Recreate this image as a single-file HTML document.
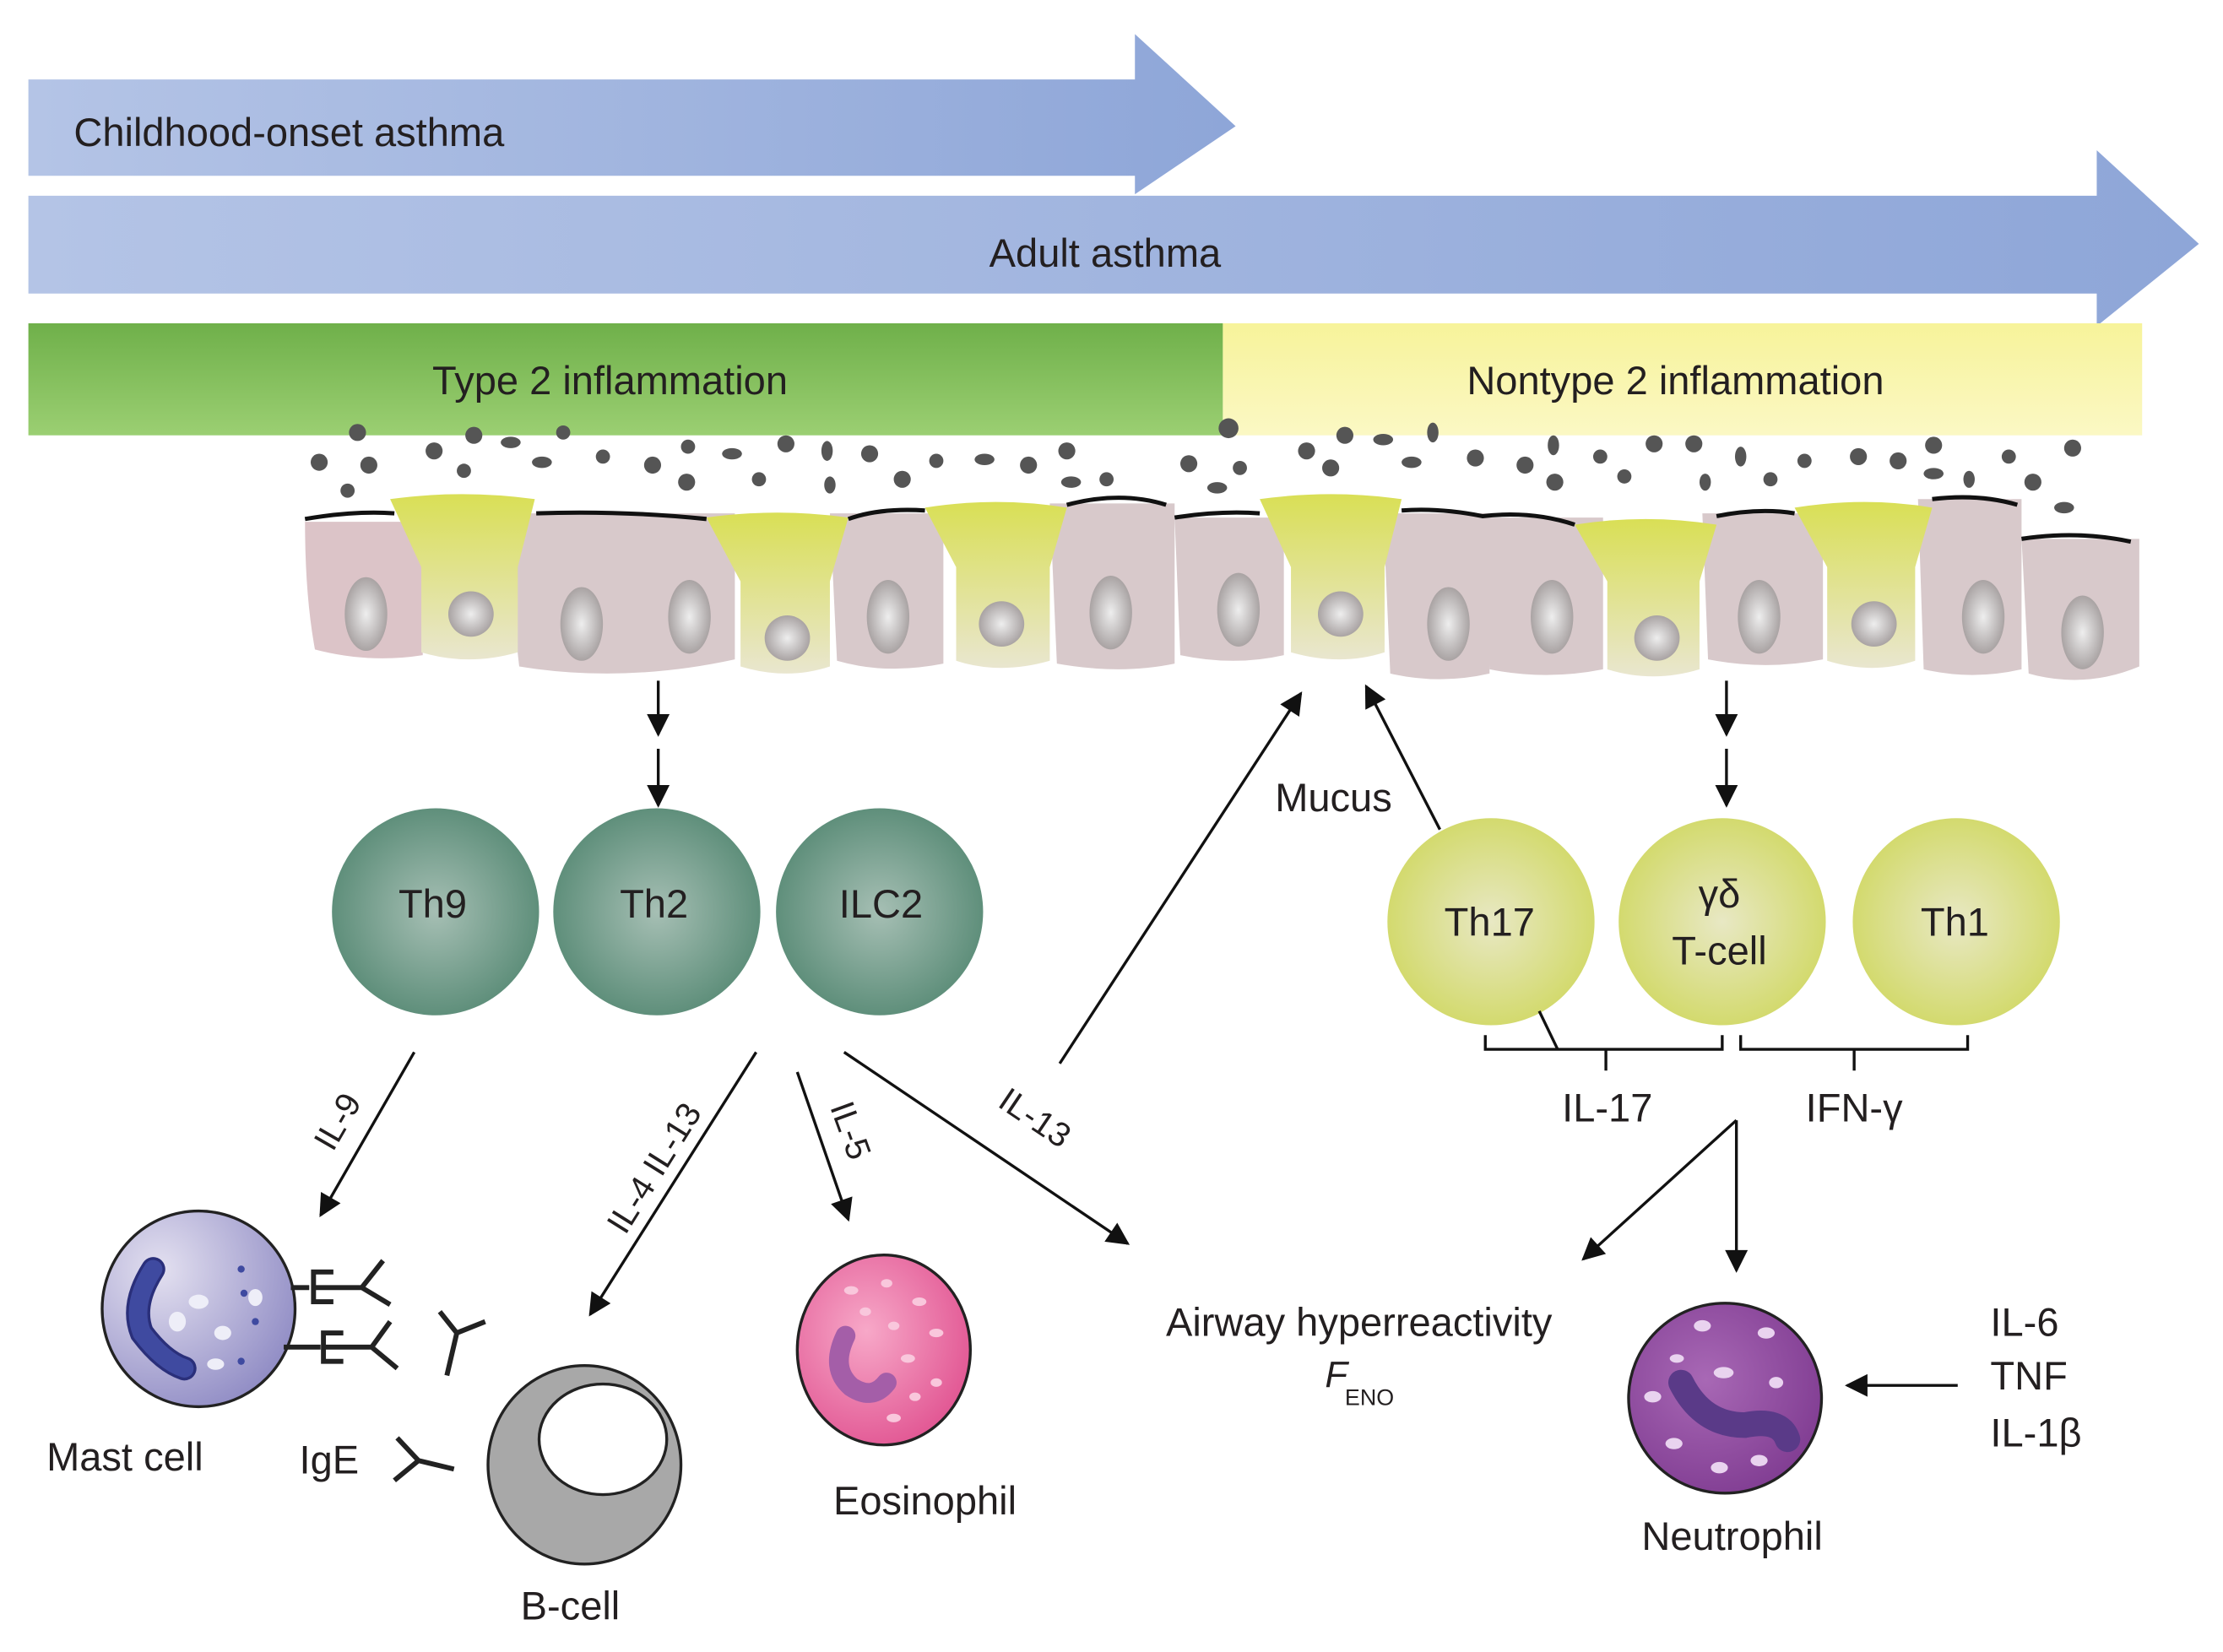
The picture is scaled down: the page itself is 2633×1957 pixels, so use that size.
<!DOCTYPE html>
<html><head><style>html,body{margin:0;padding:0;background:#fff}svg{display:block}text{font-family:"Liberation Sans",sans-serif;fill:#231f20}</style></head><body>
<svg width="2633" height="1957" viewBox="0 0 1567 1165" preserveAspectRatio="none" xmlns="http://www.w3.org/2000/svg">
<defs>
<linearGradient id="ab" x1="0" x2="1"><stop offset="0" stop-color="#b4c4e6"/><stop offset="1" stop-color="#8ea6d8"/></linearGradient>
<linearGradient id="gr" x1="0" y1="0" x2="0" y2="1"><stop offset="0" stop-color="#6fb04a"/><stop offset="1" stop-color="#9bcf72"/></linearGradient>
<linearGradient id="yl" x1="0" y1="0" x2="0" y2="1"><stop offset="0" stop-color="#f7f39a"/><stop offset="1" stop-color="#fbf8c4"/></linearGradient>
<radialGradient id="tg" cx="0.5" cy="0.5" r="0.5"><stop offset="0" stop-color="#a6bfb4"/><stop offset="1" stop-color="#5f8f7b"/></radialGradient>
<radialGradient id="ty" cx="0.5" cy="0.5" r="0.5"><stop offset="0" stop-color="#e8e8c4"/><stop offset="1" stop-color="#d3da6e"/></radialGradient>
<linearGradient id="gob" x1="0" y1="0" x2="0" y2="1"><stop offset="0" stop-color="#d9df55"/><stop offset="1" stop-color="#e9e6cf"/></linearGradient>
<radialGradient id="nuc" cx="0.5" cy="0.5" r="0.5"><stop offset="0" stop-color="#eee"/><stop offset="1" stop-color="#a9a3a3"/></radialGradient>
<radialGradient id="mast" cx="0.3" cy="0.3" r="0.8"><stop offset="0" stop-color="#e3e0f0"/><stop offset="1" stop-color="#8f8bc4"/></radialGradient>
<radialGradient id="eos" cx="0.4" cy="0.4" r="0.7"><stop offset="0" stop-color="#f7a8c8"/><stop offset="1" stop-color="#e0508f"/></radialGradient>
<radialGradient id="neu" cx="0.4" cy="0.4" r="0.7"><stop offset="0" stop-color="#a868b5"/><stop offset="1" stop-color="#7e3a90"/></radialGradient>
<marker id="ar2" viewBox="0 0 10 10" refX="9" refY="5" markerWidth="18" markerHeight="16" orient="auto" markerUnits="userSpaceOnUse"><path d="M0,0L10,5L0,10z" fill="#111"/></marker>
</defs>
<path d="M20,56H800V24L871,89L800,137V124H20Z" fill="url(#ab)"/>
<text x="52" y="103" font-size="28">Childhood-onset asthma</text>
<path d="M20,138H1478V106L1550,172L1478,230V207H20Z" fill="url(#ab)"/>
<text x="779" y="188" font-size="28" text-anchor="middle">Adult asthma</text>
<rect x="20" y="228" width="842" height="79" fill="url(#gr)"/>
<rect x="862" y="228" width="648" height="79" fill="url(#yl)"/>
<text x="430" y="278" font-size="28" text-anchor="middle">Type 2 inflammation</text>
<text x="1181" y="278" font-size="28" text-anchor="middle">Nontype 2 inflammation</text>
<g fill="#555">
<circle cx="225" cy="326" r="6"/><circle cx="252" cy="305" r="6"/><circle cx="260" cy="328" r="6"/><circle cx="245" cy="346" r="5"/><circle cx="306" cy="318" r="6"/><circle cx="334" cy="307" r="6"/><circle cx="327" cy="332" r="5"/><ellipse cx="360" cy="312" rx="7" ry="4"/><ellipse cx="382" cy="326" rx="7" ry="4"/><circle cx="397" cy="305" r="5"/><circle cx="425" cy="322" r="5"/><circle cx="460" cy="328" r="6"/><circle cx="485" cy="315" r="5"/><circle cx="484" cy="340" r="6"/><ellipse cx="516" cy="320" rx="7" ry="4"/><circle cx="554" cy="313" r="6"/><circle cx="535" cy="338" r="5"/><ellipse cx="583" cy="318" rx="4" ry="7"/><ellipse cx="585" cy="342" rx="4" ry="6"/><circle cx="613" cy="320" r="6"/><circle cx="636" cy="338" r="6"/><circle cx="660" cy="325" r="5"/><ellipse cx="694" cy="324" rx="7" ry="4"/><circle cx="725" cy="328" r="6"/><circle cx="752" cy="318" r="6"/><ellipse cx="755" cy="340" rx="7" ry="4"/><circle cx="780" cy="338" r="5"/><circle cx="838" cy="327" r="6"/><circle cx="866" cy="302" r="7"/><circle cx="874" cy="330" r="5"/><ellipse cx="858" cy="344" rx="7" ry="4"/><circle cx="921" cy="318" r="6"/><circle cx="948" cy="307" r="6"/><circle cx="938" cy="330" r="6"/><ellipse cx="975" cy="310" rx="7" ry="4"/><ellipse cx="995" cy="326" rx="7" ry="4"/><ellipse cx="1010" cy="305" rx="4" ry="7"/><circle cx="1040" cy="323" r="6"/><circle cx="1075" cy="328" r="6"/><ellipse cx="1095" cy="314" rx="4" ry="7"/><circle cx="1096" cy="340" r="6"/><circle cx="1128" cy="322" r="5"/><circle cx="1166" cy="313" r="6"/><circle cx="1145" cy="336" r="5"/><circle cx="1194" cy="313" r="6"/><ellipse cx="1202" cy="340" rx="4" ry="6"/><ellipse cx="1227" cy="322" rx="4" ry="7"/><circle cx="1248" cy="338" r="5"/><circle cx="1272" cy="325" r="5"/><circle cx="1310" cy="322" r="6"/><circle cx="1338" cy="325" r="6"/><circle cx="1363" cy="314" r="6"/><ellipse cx="1363" cy="334" rx="7" ry="4"/><ellipse cx="1388" cy="338" rx="4" ry="6"/><circle cx="1416" cy="322" r="5"/><circle cx="1433" cy="340" r="6"/><circle cx="1461" cy="316" r="6"/><ellipse cx="1455" cy="358" rx="7" ry="4"/>
</g>
<g stroke="none">
<g fill="#d8c9cb">
<path d="M215,368H298V462Q260,468 222,458Q215,420 215,368Z" fill="#dcc4c8"/>
<path d="M362,362H518V465Q440,482 366,470Q360,420 362,362Z"/>
<path d="M585,362H665V468Q625,476 590,466Z"/>
<path d="M740,355H828V468Q790,476 745,468Z"/>
<path d="M828,365H905V462Q870,470 832,462Z"/>
<path d="M975,362H1050V475Q1015,483 980,475Z"/>
<path d="M1045,365H1130V472Q1090,480 1050,472Z"/>
<path d="M1200,362H1285V465Q1245,473 1204,465Z"/>
<path d="M1352,352H1425V472Q1390,480 1356,472Z"/>
<path d="M1425,380H1508V470Q1470,486 1430,475Z"/>
</g>
<g fill="url(#gob)">
<path d="M275,352Q325,345 377,352L365,400V460Q330,470 297,460V400Z"/>
<path d="M498,365Q548,358 598,365L585,410V470Q555,480 522,470V410Z"/>
<path d="M652,358Q702,350 752,358L740,400V466Q705,476 674,466V400Z"/>
<path d="M888,352Q938,345 988,352L976,400V460Q945,470 910,460V400Z"/>
<path d="M1110,370Q1160,362 1210,370L1198,410V472Q1165,482 1133,472V410Z"/>
<path d="M1265,358Q1315,350 1362,358L1350,400V466Q1320,476 1288,466V400Z"/>
</g>
<g fill="url(#nuc)">
<ellipse cx="258" cy="433" rx="15" ry="26"/><circle cx="332" cy="433" r="16"/><ellipse cx="410" cy="440" rx="15" ry="26"/><ellipse cx="486" cy="435" rx="15" ry="26"/><circle cx="555" cy="450" r="16"/><ellipse cx="626" cy="435" rx="15" ry="26"/><circle cx="706" cy="440" r="16"/><ellipse cx="783" cy="432" rx="15" ry="26"/><ellipse cx="873" cy="430" rx="15" ry="26"/><circle cx="945" cy="433" r="16"/><ellipse cx="1021" cy="440" rx="15" ry="26"/><ellipse cx="1094" cy="435" rx="15" ry="26"/><circle cx="1168" cy="450" r="16"/><ellipse cx="1240" cy="435" rx="15" ry="26"/><circle cx="1321" cy="440" r="16"/><ellipse cx="1398" cy="435" rx="15" ry="26"/><ellipse cx="1468" cy="446" rx="15" ry="26"/>
</g>
<g fill="none" stroke="#111" stroke-width="3">
<path d="M215,366Q250,360 278,362"/><path d="M378,362Q440,360 498,366"/><path d="M598,366Q620,358 652,360"/><path d="M752,356Q790,346 822,356"/><path d="M828,365Q860,360 888,362"/><path d="M988,360Q1015,358 1045,364Q1080,360 1110,370"/><path d="M1210,364Q1240,358 1265,362"/><path d="M1362,352Q1395,348 1422,356"/><path d="M1425,380Q1465,374 1502,382"/>
</g>
</g>
<g stroke="#111" stroke-width="2" fill="none">
<line x1="464" y1="480" x2="464" y2="518" marker-end="url(#ar2)"/>
<line x1="464" y1="528" x2="464" y2="568" marker-end="url(#ar2)"/>
<line x1="1217" y1="480" x2="1217" y2="518" marker-end="url(#ar2)"/>
<line x1="1217" y1="528" x2="1217" y2="568" marker-end="url(#ar2)"/>
</g>
<circle cx="307" cy="643" r="73" fill="url(#tg)"/><circle cx="463" cy="643" r="73" fill="url(#tg)"/><circle cx="620" cy="643" r="73" fill="url(#tg)"/>
<text x="305" y="647" font-size="28" text-anchor="middle">Th9</text><text x="461" y="647" font-size="28" text-anchor="middle">Th2</text><text x="621" y="647" font-size="28" text-anchor="middle">ILC2</text>
<circle cx="1051" cy="650" r="73" fill="url(#ty)"/><circle cx="1214" cy="650" r="73" fill="url(#ty)"/><circle cx="1379" cy="650" r="73" fill="url(#ty)"/>
<text x="1050" y="660" font-size="28" text-anchor="middle">Th17</text><text x="1212" y="640" font-size="28" text-anchor="middle">γδ</text><text x="1212" y="680" font-size="28" text-anchor="middle">T-cell</text><text x="1378" y="660" font-size="28" text-anchor="middle">Th1</text>
<g stroke="#111" stroke-width="2" fill="none">
<path d="M1047,730V740H1214V730M1132,740V755"/>
<path d="M1227,730V740H1387V730M1307,740V755"/>
<line x1="1085" y1="713" x2="1098" y2="740"/>
</g>
<text x="1133" y="791" font-size="28" text-anchor="middle">IL-17</text>
<text x="1307" y="791" font-size="28" text-anchor="middle">IFN-γ</text>
<g stroke="#111" stroke-width="2" fill="none">
<line x1="292" y1="742" x2="226" y2="857" marker-end="url(#ar2)"/>
<line x1="533" y1="742" x2="416" y2="927" marker-end="url(#ar2)"/>
<line x1="562" y1="756" x2="598" y2="860" marker-end="url(#ar2)"/>
<line x1="595" y1="742" x2="795" y2="877" marker-end="url(#ar2)"/>
<line x1="747" y1="750" x2="917" y2="489" marker-end="url(#ar2)"/>
<line x1="1015" y1="585" x2="963" y2="484" marker-end="url(#ar2)"/>
<path d="M1224,790V896" marker-end="url(#ar2)"/>
<line x1="1224" y1="790" x2="1116" y2="888" marker-end="url(#ar2)"/>
<line x1="1380" y1="977" x2="1302" y2="977" marker-end="url(#ar2)"/>
</g>
<text transform="translate(245,795) rotate(-60)" font-size="24" text-anchor="middle">IL-9</text>
<text transform="translate(468,828) rotate(-58)" font-size="24" text-anchor="middle">IL-4 IL-13</text>
<text transform="translate(592,800) rotate(70)" font-size="24" text-anchor="middle">IL-5</text>
<text transform="translate(725,795) rotate(34)" font-size="24" text-anchor="middle">IL-13</text>
<text x="940" y="572" font-size="28" text-anchor="middle">Mucus</text>
<ellipse cx="140" cy="923" rx="68" ry="69" fill="url(#mast)" stroke="#222" stroke-width="2"/>
<path d="M108,895Q92,920 100,940Q115,960 130,965" stroke="#2a2f7a" stroke-width="17" fill="none" stroke-linecap="round"/>
<path d="M108,895Q92,920 100,940Q115,960 130,965" stroke="#3f4aa0" stroke-width="13" fill="none" stroke-linecap="round"/>
<g fill="#eeeef8"><ellipse cx="140" cy="918" rx="7" ry="5"/><ellipse cx="125" cy="932" rx="6" ry="7"/><ellipse cx="157" cy="940" rx="6" ry="5"/><ellipse cx="180" cy="915" rx="5" ry="6"/><ellipse cx="152" cy="962" rx="6" ry="4"/></g>
<g fill="#3f4aa0"><circle cx="170" cy="895" r="2.5"/><circle cx="172" cy="912" r="2.5"/><circle cx="180" cy="932" r="2.5"/><circle cx="170" cy="960" r="2.5"/></g>
<g stroke="#222" stroke-width="3.5" fill="none">
<path d="M205,908H218M235,897H221V918H235M221,908H255L270,889M255,908L275,920"/>
<path d="M200,950H226M242,940H228V960H242M228,950H262L275,932M262,950L280,965"/>
<path d="M310,925L322,940L342,932M322,940L315,970"/>
<path d="M280,1020L295,1036L320,1042M295,1036L278,1050" transform="translate(0,-6)"/>
</g>
<text x="88" y="1037" font-size="28" text-anchor="middle">Mast cell</text>
<text x="232" y="1039" font-size="28" text-anchor="middle">IgE</text>
<ellipse cx="412" cy="1033" rx="68" ry="70" fill="#a8a8a8" stroke="#222" stroke-width="2"/>
<ellipse cx="425" cy="1015" rx="45" ry="39" fill="#fff" stroke="#222" stroke-width="2"/>
<text x="402" y="1142" font-size="28" text-anchor="middle">B-cell</text>
<ellipse cx="623" cy="952" rx="61" ry="67" fill="url(#eos)" stroke="#222" stroke-width="2"/>
<path d="M596,942Q585,965 600,978Q615,988 625,975" stroke="#a45ea8" stroke-width="14" fill="none" stroke-linecap="round"/>
<g fill="#f9c7dc"><ellipse cx="600" cy="910" rx="5" ry="3"/><ellipse cx="625" cy="905" rx="4" ry="3"/><ellipse cx="648" cy="918" rx="5" ry="3"/><ellipse cx="660" cy="940" rx="5" ry="3"/><ellipse cx="630" cy="935" rx="4" ry="3"/><ellipse cx="640" cy="958" rx="5" ry="3"/><ellipse cx="660" cy="975" rx="4" ry="3"/><ellipse cx="630" cy="1000" rx="5" ry="3"/><ellipse cx="610" cy="925" rx="4" ry="3"/><ellipse cx="645" cy="985" rx="4" ry="3"/></g>
<text x="652" y="1068" font-size="28" text-anchor="middle">Eosinophil</text>
<text x="958" y="942" font-size="28" text-anchor="middle">Airway hyperreactivity</text>
<text x="934" y="978" font-size="26" font-style="italic">F</text><text x="948" y="991" font-size="16">ENO</text>
<ellipse cx="1216" cy="986" rx="68" ry="67" fill="url(#neu)" stroke="#222" stroke-width="2"/>
<path d="M1185,975Q1200,1005 1230,1005Q1255,1000 1260,1015" stroke="#5a3a88" stroke-width="18" fill="none" stroke-linecap="round"/>
<g fill="#e9d3ef"><ellipse cx="1200" cy="935" rx="6" ry="4"/><ellipse cx="1245" cy="940" rx="6" ry="4"/><ellipse cx="1215" cy="968" rx="7" ry="4"/><ellipse cx="1165" cy="985" rx="6" ry="4"/><ellipse cx="1252" cy="975" rx="5" ry="4"/><ellipse cx="1180" cy="1018" rx="6" ry="4"/><ellipse cx="1212" cy="1035" rx="6" ry="4"/><ellipse cx="1240" cy="1030" rx="6" ry="4"/><ellipse cx="1182" cy="958" rx="5" ry="3"/></g>
<text x="1221" y="1093" font-size="28" text-anchor="middle">Neutrophil</text>
<text x="1403" y="942" font-size="28">IL-6</text>
<text x="1403" y="980" font-size="28">TNF</text>
<text x="1403" y="1020" font-size="28">IL-1β</text>
</svg>
</body></html>
